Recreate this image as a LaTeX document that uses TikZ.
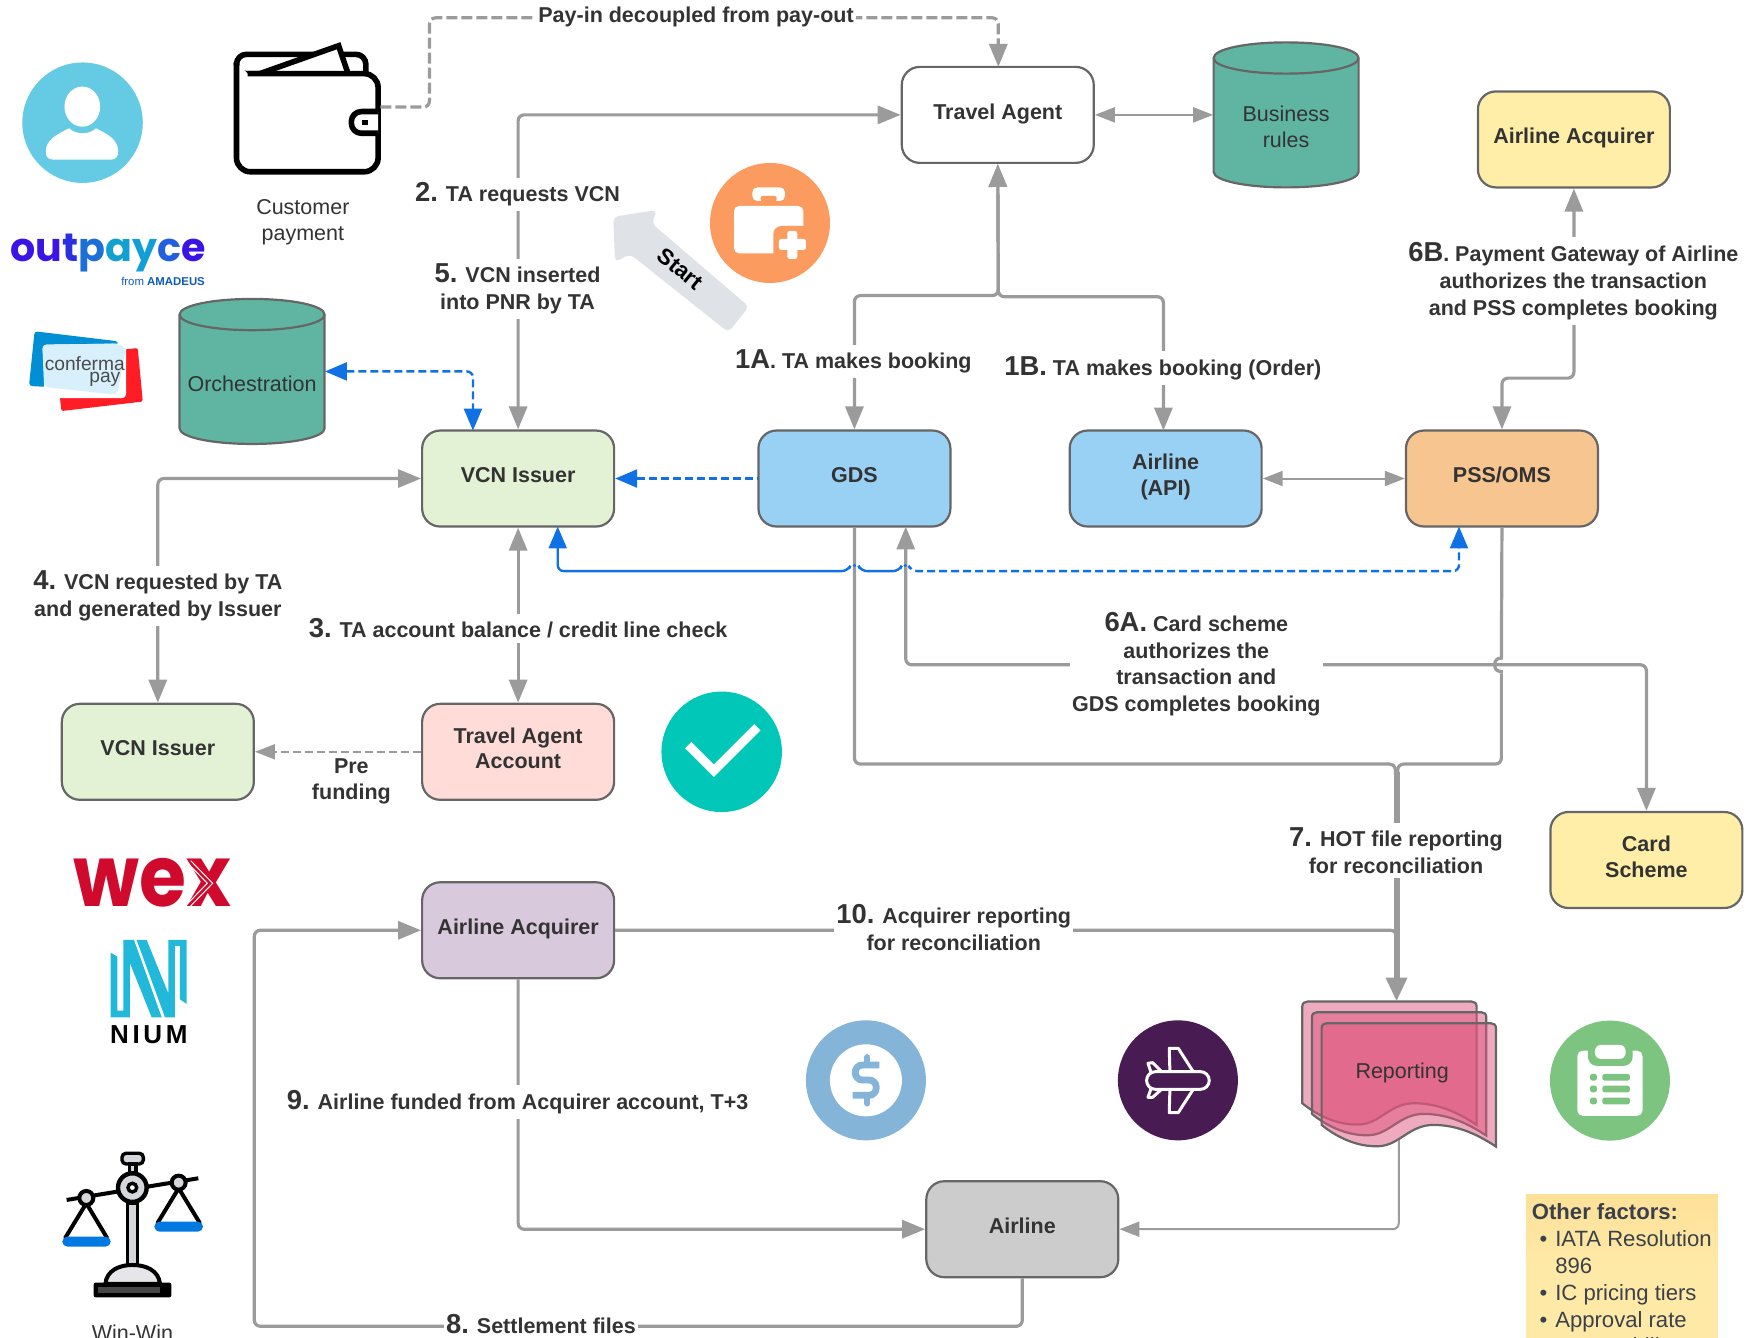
\documentclass[tikz,border=0pt]{standalone}
\usepackage{fontspec}
\setmainfont{Liberation Sans}
\newfontfamily\poppins{Poppins}
\usetikzlibrary{arrows.meta}
\definecolor{lineg}{HTML}{9B9B9B}
\definecolor{stroke}{HTML}{666666}
\definecolor{ink}{HTML}{333333}
\definecolor{blu}{HTML}{1071E5}
\definecolor{teal1}{HTML}{5FB5A2}
\definecolor{yel}{HTML}{FFEEA8}
\definecolor{grn}{HTML}{E3F2D5}
\definecolor{sky}{HTML}{99D1F4}
\definecolor{ora}{HTML}{F7C58F}
\definecolor{pnk}{HTML}{FFDCD8}
\definecolor{pur}{HTML}{D9C9DD}
\definecolor{gry}{HTML}{CCCCCC}
\definecolor{repc}{HTML}{DE557D}
\definecolor{cora}{HTML}{FB9B5F}
\definecolor{ctea}{HTML}{00C7B7}
\definecolor{cblu}{HTML}{84B4D8}
\definecolor{cpur}{HTML}{481B52}
\definecolor{cgre}{HTML}{7DC481}
\definecolor{cuse}{HTML}{65CAE4}
\definecolor{notec}{HTML}{FEE9A6}
\definecolor{notet}{HTML}{3A414A}
\definecolor{sarr}{HTML}{DFE3E8}
\definecolor{scl}{HTML}{D5D6DC}
\definecolor{bpan}{HTML}{0278E1}
\definecolor{niumc}{HTML}{22B8D9}
\definecolor{wexc}{HTML}{CF0A2C}
\definecolor{confb}{HTML}{008FD5}
\definecolor{confr}{HTML}{FF1C24}
\definecolor{confl}{HTML}{D8F0FC}
\newcommand\lfont{\fontsize{10.75}{13.4}\selectfont}
\newcommand\sfont{\fontsize{10.75}{12.9}\selectfont}
\newcommand\bn[1]{{\fontsize{13.7}{13.4}\selectfont #1}}
\newcommand\nb{\makebox[11.7pt][c]{•}}
\tikzset{
  box/.style={draw=stroke,line width=1.1pt,rounded corners=9pt,minimum width=96pt,minimum height=48pt,
    inner sep=0pt,font=\sfont\bfseries,text=ink,align=center,
    execute at end node={\rule[-3.5pt]{0pt}{0pt}}},
  lab/.style={font=\lfont\bfseries,text=ink,align=center,fill=white,inner xsep=1pt,inner ysep=2.5pt},
  plain/.style={font=\sfont,text=ink,align=center,inner sep=0pt},
  gl/.style={draw=lineg,line width=1.6pt,rounded corners=3pt},
  tl/.style={draw=lineg,line width=1pt,rounded corners=3pt},
  tipg/.tip={Triangle[length=11.5pt,width=9pt]},
  tipt/.tip={Triangle[length=10pt,width=7.5pt]},
  bl/.style={draw=blu,line width=1.2pt,rounded corners=3pt},
  bdash/.style={dash pattern=on 4pt off 2pt},
  z2/.style={shift={(0,735.1)},x=.16668pt,y=-.16668pt},
  z3/.style={shift={(1120.6,878.5)},x=.16668pt,y=-.16668pt},
  z5/.style={shift={(537.9,125.5)},x=.16668pt,y=-.16668pt},
  z8/.style={shift={(699.2,896.5)},x=.16668pt,y=-.16668pt},
  cyl/.pic={
    \draw[draw=stroke,line width=1.1pt,fill=teal1] (0,14) -- (0,116) .. controls (0,124) and (29,130) .. (65,130) .. controls (101,130) and (130,124) .. (130,116) -- (130,14) .. controls (130,6) and (101,0) .. (65,0) .. controls (29,0) and (0,6) .. (0,14) -- cycle;
    \draw[draw=stroke,line width=1.1pt] (0,14) .. controls (0,22) and (29,28) .. (65,28) .. controls (101,28) and (130,22) .. (130,14);
  }
}
\newcommand\docpath{(157,370) -- (157,80) .. controls (157,70) and (163,65) .. (172,65) -- (665,65) .. controls (674,65) and (680,70) .. (680,80) -- (680,435) .. controls (620,395) and (560,370) .. (492,370) .. controls (420,370) and (390,432) .. (327,434) .. controls (260,436) and (200,405) .. (157,370) -- cycle}
\begin{document}
\begin{tikzpicture}[x=.5578pt,y=-.5578pt]
\path[use as bounding box] (0,0) rectangle (1568,1199.5);

% ---------- round icons
\fill[cuse] (74,110) circle (54);
\fill[white] (73.8,95.6) ellipse (16 and 18);
\fill[white] (41,136) .. controls (41,125) and (52,120) .. (62,115) .. controls (68,121) and (80,121) .. (86,115) .. controls (96,120) and (106,125) .. (106,136) .. controls (106,141) and (103,143) .. (100,143) -- (47,143) .. controls (44,143) and (41,141) .. (41,136) -- cycle;

% wallet
\begin{scope}[line width=2.8pt,draw=black,line join=round]
  \draw[rounded corners=5pt] (240,66) -- (212,66) -- (212,48.7) -- (328,48.7) -- (328,66);
  \draw[fill=white,line join=miter] (233,66) -- (303.6,41) -- (312,66);
  \draw[rounded corners=7pt,fill=white] (212,56) -- (212,154) -- (339,154) -- (339,66) -- (222,66);
  \draw[fill=white,rounded corners=5pt] (339,100) -- (315,100) -- (315,119.5) -- (339,119.5);
  \fill[black] (324.5,107.5) rectangle (329.5,112.5);
\end{scope}
\coordinate (walletr) at (341,96);
\node[plain] (custpay) at (271.5,199) {Customer\\payment};

% outpayce
\node[anchor=base west,inner sep=0pt,font={\fontsize{19.8}{21}\selectfont\poppins\bfseries}] (outp) at (9,234.6)
  {\textcolor[HTML]{3B13E6}{ou}\textcolor[HTML]{2A30E0}{t}\textcolor[HTML]{1D6FD8}{p}\textcolor[HTML]{12A0CF}{a}\textcolor[HTML]{129ED6}{y}\textcolor[HTML]{2060E0}{c}\textcolor[HTML]{3B13E6}{e}};
\node[anchor=base east,inner sep=0pt,text=blu!80!black,font={\fontsize{5.7}{7}\selectfont}] (amad) at (184,256) {from \textbf{AMADEUS}};

% conferma pay
\fill[confr,rounded corners=1pt] (123.5,312) -- (128,360) -- (55,368.5) -- (50,320) -- cycle;
\fill[confb,rounded corners=1.5pt] (31,297) -- (106,306) -- (100,350) -- (26,346) -- cycle;
\fill[white,rounded corners=2pt] (38,309) -- (113,308) -- (113,357) -- (40,357) -- cycle;
\fill[confl,rounded corners=2pt] (38,309) -- (105,308) -- (113,312) -- (105,354) -- (40,347) -- cycle;
\node[inner sep=0pt,text=black!70,font={\fontsize{9.6}{10}\selectfont}] (confa) at (76,326) {conferma};
\node[inner sep=0pt,text=black!70,font={\fontsize{9.6}{10}\selectfont}] (confbt) at (94,340) {pay};

% cylinders
\pic at (161,268) {cyl};
\pic at (1088,38) {cyl};
\node[minimum width=72.5pt,minimum height=72.5pt,inner sep=0pt] (orch) at (226,333) {};
\node[minimum width=72.5pt,minimum height=72.5pt,inner sep=0pt] (bus) at (1153,103) {};
\node[plain] (orcht) at (226,344) {Orchestration};
\node[plain] (bust) at (1153,114) {Business\\rules};

% boxes
\node[box,fill=white] (ta) at (894.5,103) {Travel Agent};
\node[box,fill=yel] (acq) at (1411,125) {Airline Acquirer};
\node[box,fill=grn] (vcn) at (464.5,429) {VCN Issuer};
\node[box,fill=sky] (gds) at (766,429) {GDS};
\node[box,fill=sky] (api) at (1045,429) {Airline\\(API)};
\node[box,fill=ora] (pss) at (1346.5,429) {PSS/OMS};
\node[box,fill=grn] (vcnb) at (141.5,674) {VCN Issuer};
\node[box,fill=pnk] (tacc) at (464.5,674) {Travel Agent\\Account};
\node[box,fill=yel] (card) at (1476,771) {Card\\Scheme};
\node[box,fill=pur] (acqp) at (464.5,834) {Airline Acquirer};
\node[box,fill=gry] (air) at (916.5,1102) {Airline};

% reporting stack
\begin{scope}[z3]
  \draw[draw=stroke,line width=1.1pt,fill=repc,fill opacity=.5] \docpath;
  \begin{scope}[shift={(29,32)}]\draw[draw=stroke,line width=1.1pt,fill=repc,fill opacity=.5] \docpath;\end{scope}
  \begin{scope}[shift={(58,65)}]\draw[draw=stroke,line width=1.1pt,fill=repc,fill opacity=.5] \docpath;\end{scope}
\end{scope}
\node[plain] (rep) at (1257,962) {Reporting};
\coordinate (reptop) at (1252,898);
\coordinate (repbot) at (1254,1022);

% helper coordinates
\coordinate (j) at (895,265);
\coordinate (apit) at (1043,386);
\coordinate (m6b) at (1380,339);
\coordinate (hotl) at (1251,685);
\coordinate (hotr) at (1253,685);
\coordinate (hotm) at (1252,692);
\coordinate (hota) at (1252,848);
\coordinate (gdsa) at (812,472);
\coordinate (m6a) at (1100,596);
\coordinate (vcna) at (500,472);
\coordinate (pssa) at (1308,472);
\coordinate (orchv) at (424,386);
\coordinate (payr) at (895,60);
\coordinate (top) at (640,16);
\coordinate (w) at (385,60);
\coordinate (l8) at (228,1189);

% blue connectors
\draw[bl,bdash,{Triangle[length=11pt,width=9pt]}-] (vcn.east) -- (gds.west);
\draw[bl,bdash,{Triangle[length=11pt,width=9pt]}-{Triangle[length=11pt,width=9pt]}] (orch.east) -| (orchv);
\draw[bl,{Triangle[length=11pt,width=9pt]}-] (vcna) |- (760,512) -- (761,510);
\draw[bl] (771,510) -- (772,512) -- (806,512) -- (807,510);
\draw[bl,bdash,-{Triangle[length=11pt,width=9pt]}] (816,510) -- (817,512) -| (pssa);

% grey connectors
\draw[gl,tipg-tipg] (vcn.north) |- (ta.west);
\draw[gl,dash pattern=on 5.5pt off 2pt,-tipg] (walletr) -- (385,96) -- (w |- top) -| (payr);
\draw[tl,tipt-tipt] (ta.east) -- (bus.west);
\draw[gl,tipg-tipg] (gds.north) |- (j) -- (ta.south);
\draw[gl,tipg-tipg] (apit) |- (895,266) -- (ta.south);
\draw[gl,tipg-tipg] (pss.north) |- (m6b) -| (acq.south);
\draw[tl,tipt-tipt] (api.east) -- (pss.west);
\draw[gl,tipg-tipg] (vcn.south) -- (tacc.north);
\draw[gl,tipg-tipg] (vcn.west) -| (vcnb.north);
\draw[draw=lineg,line width=.9pt,dash pattern=on 4pt off 2pt,-tipt] (tacc.west) -- (vcnb.east);
\draw[gl,tipg-tipg] (gdsa) |- (m6a) -| (card.north);
\draw[gl] (gds.south) |- (hotl) -- (1251,695);
\draw[gl,sharp corners] (pss.south) -- (1346,590) .. controls (1342,590) and (1340,592) .. (1340,596) .. controls (1340,600) and (1342,602) .. (1346,602) -- (1346,604);
\draw[gl] (1346,604) |- (hotr) -- (1253,695);
\draw[gl] (acqp.east) -| (hota);
\draw[draw=lineg,line width=3pt,-{Triangle[length=12pt,width=10pt]}] (hotm) -- (reptop);
\draw[gl,-tipg] (acqp.south) |- (air.west);
\draw[tl,-tipt] (repbot) |- (air.east);
\draw[gl,-tipg] (air.south) |- (l8) |- (acqp.west);
% jump marks of the blue line, above the grey lines
\fill[blu] (766,507) circle (1.5);
\fill[blu] (811.5,507) circle (1.5);

% labels
\node[lab] (lpay) at (624,15) {Pay-in decoupled from pay-out};
\node[lab] (l2) at (464,174.5) {\bn{2.} TA requests VCN};
\node[lab] (l5) at (464,259) {\bn{5.} VCN inserted\\into PNR by TA};
\node[lab] (l1a) at (765,324) {\bn{1A}. TA makes booking};
\node[lab] (l1b) at (1042.5,330) {\bn{1B.} TA makes booking (Order)};
\node[lab] (l6b) at (1410.5,252) {\bn{6B}. Payment Gateway of Airline\\authorizes the transaction\\and PSS completes booking};
\node[lab] (l4) at (141.5,534) {\bn{4.} VCN requested by TA\\and generated by Issuer};
\node[lab] (l3) at (464.5,563.5) {\bn{3.} TA account balance / credit line check};
\node[lab] (l6a) at (1072.5,595.5) {\bn{6A.} Card scheme\\authorizes the\\transaction and\\GDS completes booking};
\node[lab] (l7) at (1251.5,762.5) {\bn{7.} HOT file reporting\\for reconciliation};
\node[lab] (l10) at (855,831.5) {\bn{10.} Acquirer reporting\\for reconciliation};
\node[lab] (l9) at (464,988) {\bn{9.} Airline funded from Acquirer account, T+3};
\node[lab,inner ysep=0pt] (l8t) at (485,1187) {\bn{8.} Settlement files};
\node[font=\sfont\bfseries,text=ink,align=center,inner sep=0pt] (lpre) at (315,700.5) {Pre\\funding};

% Start arrow
\begin{scope}[z5]
  \fill[sarr,rounded corners=2.5pt] (40,230) -- (172,210) -- (155,250) -- (447,500) -- (385,577) -- (90,342) -- (45,367) -- cycle;
  \fill[cora] (510,249) circle (180);
  \fill[white,rounded corners=2.5pt] (457,183) -- (457,142) -- (555,142) -- (555,183) -- cycle;
  \fill[cora,rounded corners=1pt] (482,168) -- (530,168) -- (530,184) -- (482,184) -- cycle;
  \fill[white,rounded corners=2.5pt] (402,198) rectangle (610,340);
  \fill[cora,rounded corners=4pt] (520,258) rectangle (635,372);
  \fill[white,rounded corners=1.2pt] (537,297) rectangle (618,330);
  \fill[white,rounded corners=1.2pt] (562,273) rectangle (592,357);
\end{scope}
\node[inner sep=0pt,rotate=-39,text=black,font={\fontsize{11.2}{12}\selectfont\bfseries}] (start) at (610,241) {Start};

% check icon
\fill[ctea] (647,674) circle (54);
\draw[white,line width=4.4pt] (617,668) -- (640,691) -- (679,652);

% dollar icon
\begin{scope}[z8]
  \fill[cblu] (258,241) circle (180);
  \fill[white] (258,241) circle (108);
  \draw[cblu,line width=3.4pt,rounded corners=3.6pt] (298,195) -- (226,195) -- (226,240) -- (289,240) -- (289,286) -- (218,286);
  \draw[cblu,line width=3.2pt,line cap=round] (262,172) -- (262,190);
  \draw[cblu,line width=3.2pt,line cap=round] (262,292) -- (262,310);
  % plane icon
  \fill[cpur] (1194,241) circle (180);
  \begin{scope}[draw=white,line width=1.5pt,line join=round]
    \draw (1170,215) -- (1168,145) -- (1195,145) -- (1240,215);
    \draw (1170,268) -- (1168,338) -- (1195,338) -- (1240,268);
    \draw (1145,215) -- (1118,188) -- (1104,190) -- (1115,222);
    \draw (1145,268) -- (1118,292) -- (1104,292) -- (1115,262);
    \draw[rounded corners=4.4pt] (1100,215) rectangle (1288,268);
  \end{scope}
\end{scope}

% clipboard icon
\begin{scope}[z3]
  \fill[cgre] (1080,302) circle (180);
  \fill[white,rounded corners=2.8pt] (982,212) rectangle (1178,408);
  \fill[cgre,rounded corners=4.5pt] (1014,180) rectangle (1148,258);
  \fill[white,rounded corners=3pt] (1035,195) rectangle (1127,237);
  \foreach \yy in {282,317,353} {
    \fill[cgre,rounded corners=1.2pt] (1020,\yy) rectangle (1041,\yy+20);
    \fill[cgre,rounded corners=1.2pt] (1057,\yy) rectangle (1140,\yy+20);
  }
\end{scope}

% note
\shade[top color=notec!92!orange,bottom color=notec,middle color=notec] (1368,1071) rectangle (1540,1200);
\node[anchor=north west,inner sep=0pt,align=left,text=notet,font={\fontsize{11.05}{13.4}\selectfont}] (note) at (1373,1079)
  {\textbf{Other factors:}\\
   \nb IATA Resolution\\
   \hspace*{11.7pt}896\\
   \nb IC pricing tiers\\
   \nb Approval rate\\
   \hspace*{11.7pt}acceptability};

% wex
\node[inner sep=0pt,text=wexc,font={\fontsize{30}{30}\selectfont\poppins\bfseries},xscale=1.27,yscale=1.42] (wex) at (136.5,791.5) {wex};
\begin{scope}[z2]
  \draw[white,line width=.5pt] (556,122) -- (622,190) -- (556,258);
  \draw[white,line width=.5pt] (572,122) -- (638,190) -- (572,258);
\end{scope}

% nium
\begin{scope}[z2]
  \fill[niumc] (332,398) -- (352,410) -- (352,572) -- (370,572) -- (370,360) -- (402,360) -- (485,592) -- (455,592) -- (390,430) -- (390,592) -- (332,592) -- cycle;
  \fill[niumc] (410,360) -- (440,360) -- (505,520) -- (505,360) -- (560,360) -- (560,552) -- (540,538) -- (540,378) -- (525,378) -- (525,592) -- (495,592) -- cycle;
\end{scope}
\node[inner sep=0pt,text=black,font={\fontsize{13}{14}\selectfont\fontspec{Liberation Sans}[LetterSpace=14]\bfseries}] (nium) at (133.5,927.5) {NIUM};

% scales
\begin{scope}[z2]
  \draw[black,line width=2pt] (200,1140) -- (595,1075);
  \draw[black,line width=2pt,line join=round] (195,1255) -- (259,1150) -- (322,1255);
  \draw[black,line width=2pt,line join=round] (472,1210) -- (536,1105) -- (600,1210);
  \fill[bpan,rounded corners=2.5pt] (187,1250) rectangle (332,1280);
  \fill[bpan,rounded corners=2.5pt] (463,1205) rectangle (609,1235);
  \draw[black,line width=1.7pt,fill=scl,rounded corners=2pt] (366,1000) rectangle (430,1032);
  \draw[black,line width=1.7pt,fill=scl] (388,1032) rectangle (408,1062);
  \draw[black,line width=1.7pt,fill=scl] (383,1150) rectangle (413,1335);
  \draw[black,line width=2.2pt,fill=scl] (397,1103) circle (43);
  \draw[black,line width=1.7pt,fill=white] (397,1103) circle (13);
  \draw[black,line width=2pt,fill=scl] (259,1134) circle (21);
  \draw[black,line width=2pt,fill=scl] (536,1088) circle (21);
  \draw[black,line width=2pt,fill=scl!60!white] (316,1392) .. controls (320,1350) and (360,1335) .. (397,1335) .. controls (436,1335) and (476,1350) .. (480,1392) -- cycle;
  \fill[black,rounded corners=1pt] (281,1388) rectangle (514,1432);
  \fill[black!72] (295,1402) rectangle (480,1418);
\end{scope}
\node[plain,anchor=base] (winwin) at (118.7,1202) {Win-Win};

\end{tikzpicture}
\end{document}
